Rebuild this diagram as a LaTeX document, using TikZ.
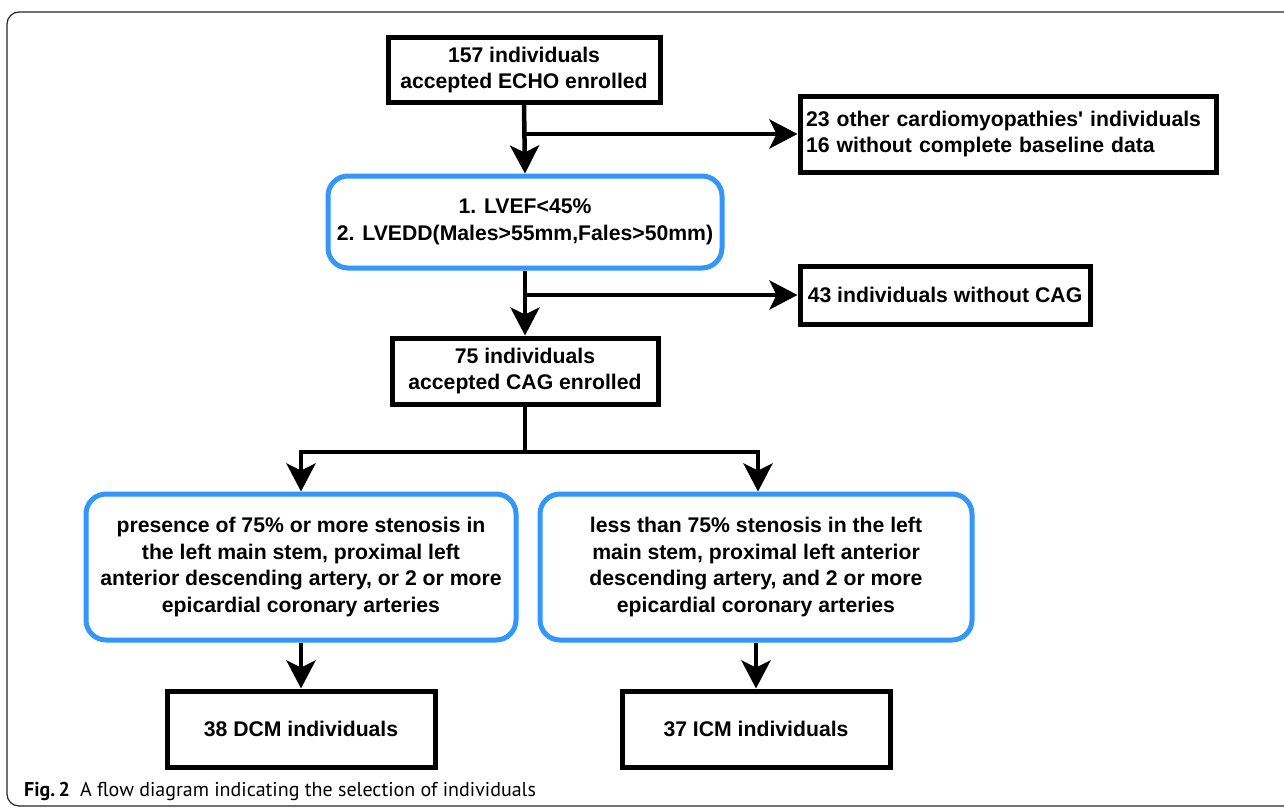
\documentclass[tikz,border=0pt]{standalone}
\usepackage{fontspec}
\setmainfont{Liberation Sans}[Ligatures=TeXOff]
\newfontfamily\capfont{PT Sans}
\usetikzlibrary{arrows.meta,calc}
\definecolor{boxblue}{RGB}{51,150,250}
\begin{document}
\begin{tikzpicture}[x=1pt,y=-1pt,
  every node/.style={font=\bfseries\fontsize{21.2}{26.4}\selectfont},
  blackbox/.style={draw=black,line width=5pt,fill=white,align=center,inner sep=0pt},
  bluebox/.style={draw=boxblue,line width=5pt,rounded corners=20pt,fill=white,align=center,inner sep=0pt},
  arr/.style={line width=4.5pt,-{Stealth[length=28pt,width=29pt,inset=7pt]}},
  conn/.style={line width=4.5pt}]
\useasboundingbox (0,0) rectangle (1284,808);
\fill[white] (0,0) rectangle (1284,808);
\begin{scope}
\clip (0,0) rectangle (1284,808);
\draw[line width=1.2pt,rounded corners=12pt,black!85] (7,12) rectangle (1310,806);
\end{scope}

\node[blackbox,minimum width=272pt,minimum height=64pt] (b1) at (524,70) {157 individuals\\accepted ECHO enrolled};
\node[blackbox,minimum height=76pt,text width=404pt,align=left,inner xsep=6pt] (r1) at (1008,134) {23 other cardiomyopathies' individuals\\16 without complete baseline data};
\node[bluebox,minimum width=394pt,minimum height=92pt] (b2) at (525,222) {1. LVEF<45\%\\2. LVEDD(Males>55mm,Fales>50mm)};
\node[blackbox,minimum width=290pt,minimum height=58pt] (r2) at (945,295) {43 individuals without CAG};
\node[blackbox,minimum width=266pt,minimum height=66pt] (b3) at (525,371) {75 individuals\\accepted CAG enrolled};
\node[bluebox,minimum width=430pt,minimum height=146pt] (l1) at (301,567) {\raisebox{-5pt}{\parbox{420pt}{\centering presence of 75\% or more stenosis in\\the left main stem, proximal left\\anterior descending artery, or 2 or more\\epicardial coronary arteries}}};
\node[bluebox,minimum width=432pt,minimum height=146pt] (rr1) at (756,567) {\raisebox{-5pt}{\parbox{420pt}{\centering less than 75\% stenosis in the left\\main stem, proximal left anterior\\descending artery, and 2 or more\\epicardial coronary arteries}}};
\node[blackbox,minimum width=268pt,minimum height=76pt] (dcm) at (301,729) {38 DCM individuals};
\node[blackbox,minimum width=268pt,minimum height=76pt] (icm) at (756,729) {37 ICM individuals};

\draw[arr] (b1.south) -- (b2.north);
\draw[arr] (b1.south |- r1.west) -- (r1.west);
\draw[arr] (b2.south) -- (b3.north);
\draw[arr] (b2.south |- r2.west) -- (r2.west);

\coordinate (sp) at (525,452);
\coordinate (spl) at (301,452);
\coordinate (spr) at (758,452);
\draw[conn] (b3.south) -- (sp);
\draw[arr] (sp) -- (spl) -- (spl |- l1.north);
\draw[arr] (sp) -- (spr) -- (spr |- rr1.north);
\draw[arr] (l1.south -| dcm.north) -- (dcm.north);
\draw[arr] (rr1.south -| icm.north) -- (icm.north);

\node[anchor=base west,inner sep=0pt,font=\capfont\fontsize{20}{22}\selectfont] (cap) at (24,796) {\textbf{Fig.\,2}\enspace A flow diagram indicating the selection of individuals};
\end{tikzpicture}
\end{document}
